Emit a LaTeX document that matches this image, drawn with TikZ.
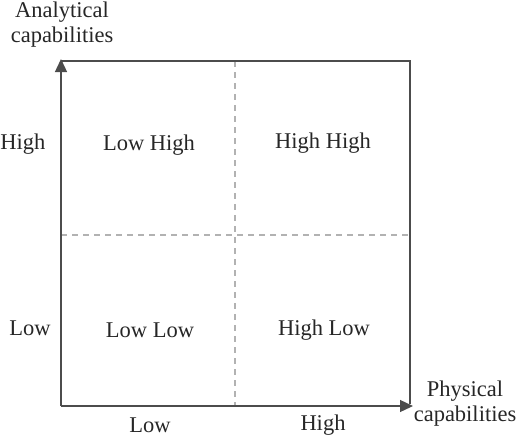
\documentclass[tikz,border=0pt]{standalone}
\usepackage{fontspec}
\setmainfont{Liberation Serif}
\usetikzlibrary{arrows.meta}
\begin{document}
\begin{tikzpicture}[x=1pt,y=-1pt,
  axis/.style={draw=black!70,line width=1.3pt},
  grid/.style={draw=black!30,line width=1.1pt,dash pattern=on 6pt off 5pt},
  lbl/.style={font=\fontsize{22.5}{25}\selectfont,align=center,text=black!85}]
\useasboundingbox (0,0) rectangle (520,440);
\coordinate (o) at (61,406);
\coordinate (yt) at (61,59);
\coordinate (xt) at (413,406);
\coordinate (tl) at (61,61);
\coordinate (tr) at (410,61);
\coordinate (br) at (410,404);
\coordinate (vt) at (235,61);
\coordinate (vb) at (235,406);
\coordinate (hl) at (61,235);
\coordinate (hr) at (410,235);
\draw[grid] (vt) -- (vb);
\draw[grid] (hl) -- (hr);
\draw[axis] (tl) -- (tr) -- (br);
\draw[axis,-{Triangle[length=13pt,width=12pt]}] (o) -- (yt);
\draw[axis,-{Triangle[length=13pt,width=12pt]}] (o) -- (xt);
\node[lbl] (ya) at (62,25) {Analytical\\capabilities};
\node[lbl] (xa) at (465,404) {Physical\\capabilities};
\node[lbl] (yh) at (23,144) {High};
\node[lbl] (yl) at (30,328) {Low};
\node[lbl] (xl) at (150,425) {Low};
\node[lbl] (xh) at (323,425) {High};
\node[lbl] (q1) at (149,145) {Low High};
\node[lbl] (q2) at (323,143) {High High};
\node[lbl] (q3) at (150,330) {Low Low};
\node[lbl] (q4) at (324,330) {High Low};
\end{tikzpicture}
\end{document}
